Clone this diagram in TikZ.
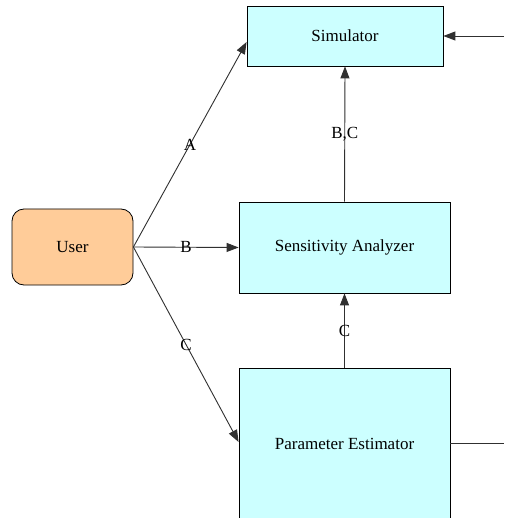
\documentclass[tikz,border=0pt]{standalone}
\usepackage{fontspec}
\setmainfont{Liberation Serif}
\usetikzlibrary{arrows.meta,calc}
\definecolor{boxfill}{HTML}{CCFFFF}
\definecolor{userfill}{HTML}{FFCC99}
\definecolor{edge}{HTML}{303030}
\begin{document}
\begin{tikzpicture}[x=1pt,y=-1pt,
  font=\rmfamily\fontsize{17}{19}\selectfont,
  block/.style={draw=black, line width=0.8pt, fill=boxfill, inner sep=0pt},
  actor/.style={draw=black, line width=0.8pt, fill=userfill, rounded corners=12pt, inner sep=0pt},
  flow/.style={draw=edge, line width=0.9pt, -{Triangle[length=12pt,width=9pt]}},
  plain/.style={draw=edge, line width=0.9pt},
  tag/.style={midway, inner sep=0pt}]
\useasboundingbox (0,0) rectangle (504,518);
\clip (0,0) rectangle (504,518);
\fill[white] (0,0) rectangle (504,518);

% blocks
\node[actor, minimum width=121pt, minimum height=76pt] (user) at (72.5,247) {User};
\node[block, minimum width=196pt, minimum height=60pt] (sim) at (345,36) {Simulator};
\node[block, minimum width=211pt, minimum height=91pt] (sens) at (344.5,247.5) {Sensitivity Analyzer};
\node[block, minimum width=211pt, minimum height=152pt] (est) at (344.5,444) {Parameter Estimator};

\coordinate (simin) at (504,36);
\coordinate (estout) at (504,443);

% connectors
\draw[flow] (user.east) -- node[tag] {A} ($(sim.west)+(0,6)$);
\draw[flow] (user.east) -- node[tag] {B} (sens.west);
\draw[flow] (user.east) -- node[tag] {C} ($(est.west)+(0,-2)$);
\draw[flow] (sens.north) -- node[tag] {B,C} (sim.south);
\draw[flow] (est.north) -- node[tag] {C} (sens.south);
\draw[flow] (simin) -- (sim.east);
\draw[plain] (est.east |- estout) -- (estout);
\end{tikzpicture}
\end{document}
